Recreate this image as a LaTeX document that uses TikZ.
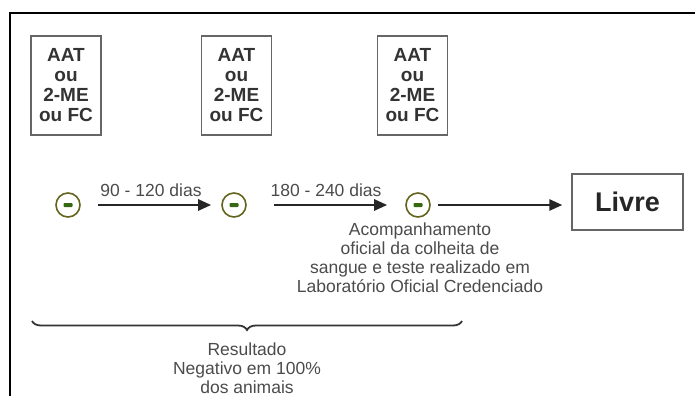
\documentclass[tikz,border=0pt]{standalone}
\usepackage{fontspec}
\setmainfont{Liberation Sans}
\usetikzlibrary{arrows.meta,decorations.pathreplacing}
\definecolor{ringcol}{RGB}{100,100,30}
\definecolor{barcol}{RGB}{55,105,20}
\definecolor{txtgray}{RGB}{75,75,75}
\begin{document}
\begin{tikzpicture}[x=1pt, y=-1pt, >={Triangle[length=13pt,width=11pt]},
  every node/.style={font=\fontsize{17.5}{19}\selectfont, text=txtgray}]
  \tikzstyle{exam}=[draw=gray!80!black,line width=1.3pt,minimum width=70pt,minimum height=99pt,inner sep=0pt,align=center,
    font=\fontsize{19}{20}\selectfont\bfseries,text=black!80]
  \tikzstyle{neg}=[circle,draw=ringcol,line width=1.6pt,minimum size=24pt,inner sep=0pt,
    path picture={\fill[barcol,rounded corners=0.8pt] ([xshift=-4.5pt,yshift=-2pt]path picture bounding box.center) rectangle ++(9pt,4pt);}]
  \tikzstyle{flow}=[->,line width=2.6pt,black!85]
  \useasboundingbox (0,0) rectangle (695,396);
  % frame
  \draw[line width=2.4pt,black] (10,396) -- (10,13) -- (695,13);
  % tests
  \node[exam] (ex1) at (66,85.5) {AAT\\ou\\2-ME\\ou FC};
  \node[exam] (ex2) at (236.5,85.5) {AAT\\ou\\2-ME\\ou FC};
  \node[exam] (ex3) at (412.5,85.5) {AAT\\ou\\2-ME\\ou FC};
  % negative results
  \node[neg] (c1) at (68,205) {};
  \node[neg] (c2) at (234,205) {};
  \node[neg] (c3) at (418,205) {};
  \node[draw=gray!80!black,line width=1.3pt,minimum width=111pt,minimum height=56pt,
    font=\fontsize{27}{30}\selectfont\bfseries,text=black!85] (livre) at (627.5,202) {Livre};
  \draw[flow,shorten <=17pt,shorten >=10pt] (c1) -- (c2) node[midway,above=4pt] {90 - 120 dias};
  \draw[flow,shorten <=27pt,shorten >=18pt] (c2) -- (c3) node[midway,above=4pt] {180 - 240 dias};
  \draw[flow,shorten <=20pt,shorten >=9pt] (c3.center) -- (c3.center -| livre.west);
  \node[align=center] (acomp) at (420,258) {Acompanhamento\\oficial da colheita de\\sangue e teste realizado em\\Laboratório Oficial Credenciado};
  % brace
  \coordinate (bl) at (32,321);
  \coordinate (br) at (462,321);
  \draw[decorate,decoration={brace,mirror,amplitude=9pt},line width=1.8pt,black!80] (bl) -- (br);
  \node[align=center] (res) at (247,368) {Resultado\\Negativo em 100\%\\dos animais};
\end{tikzpicture}
\end{document}
